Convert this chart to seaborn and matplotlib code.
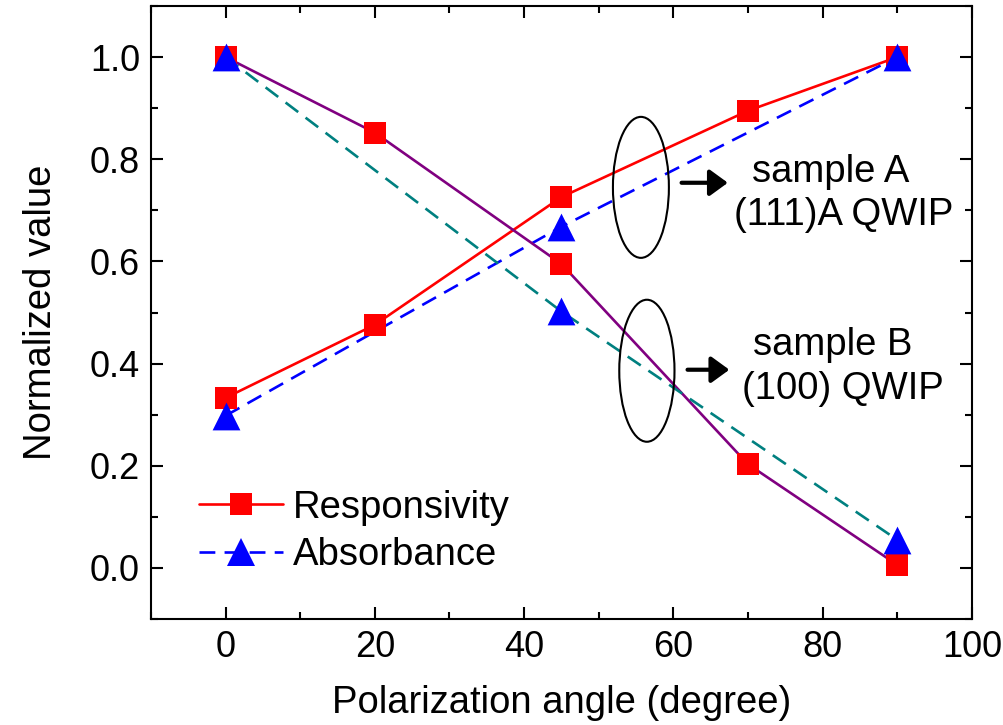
import numpy as np
import pandas as pd
import seaborn as sns
import matplotlib
matplotlib.use("Agg")
import matplotlib.pyplot as plt
from matplotlib.lines import Line2D
from matplotlib.patches import Ellipse
from matplotlib.ticker import MultipleLocator

# ---- data ----
angles_a_resp = [0, 20, 45, 70, 90]
resp_a = [0.333, 0.476, 0.726, 0.895, 1.0]
angles_a_abs = [0, 45, 90]
abs_a = [0.298, 0.668, 1.0]

angles_b_resp = [0, 20, 45, 70, 90]
resp_b = [1.0, 0.852, 0.595, 0.203, 0.006]
angles_b_abs = [0, 45, 90]
abs_b = [1.0, 0.502, 0.055]

x_ticks = [0, 20, 40, 60, 80, 100]
y_ticks = [0.0, 0.2, 0.4, 0.6, 0.8, 1.0]

sns.set_style("ticks")
plt.rcParams['font.family'] = ['Liberation Sans', 'DejaVu Sans']
plt.rcParams.update({"text.color": "black", "axes.labelcolor": "black",
                     "xtick.color": "black", "ytick.color": "black",
                     "axes.edgecolor": "black"})

fig = plt.figure(figsize=(10.04, 7.25), dpi=100)
ax = fig.add_axes([0.1504, 0.1462, 0.8176, 0.8455])

df_ar = pd.DataFrame({"x": angles_a_resp, "y": resp_a})
df_aa = pd.DataFrame({"x": angles_a_abs, "y": abs_a})
df_br = pd.DataFrame({"x": angles_b_resp, "y": resp_b})
df_ba = pd.DataFrame({"x": angles_b_abs, "y": abs_b})

lw = 1.9
dash = (6, 3.5)
sns.lineplot(data=df_ar, x="x", y="y", ax=ax, color="#ff0000", lw=lw, zorder=2)
sns.lineplot(data=df_aa, x="x", y="y", ax=ax, color="#0000ff", lw=lw, zorder=2)
ax.lines[-1].set_dashes(dash)
sns.lineplot(data=df_br, x="x", y="y", ax=ax, color="#800080", lw=lw, zorder=2)
sns.lineplot(data=df_ba, x="x", y="y", ax=ax, color="#008080", lw=lw, zorder=2)
ax.lines[-1].set_dashes(dash)

sq = 16.5 ** 2
tri = 20 ** 2
for d in (df_ar, df_br):
    sns.scatterplot(data=d, x="x", y="y", ax=ax, marker="s", color="#ff0000", s=sq,
                    linewidth=0, zorder=3)
for d in (df_aa, df_ba):
    sns.scatterplot(data=d, x="x", y="y", ax=ax, marker="^", color="#0000ff", s=tri,
                    linewidth=0, zorder=4)

ax.set_xlim(-10, 100)
ax.set_ylim(-0.1, 1.1)
ax.set_xticks(x_ticks)
ax.set_yticks(y_ticks)
ax.set_xticklabels([str(v) for v in x_ticks])
ax.set_yticklabels([f"{v:.1f}" for v in y_ticks])
ax.xaxis.set_minor_locator(MultipleLocator(10))
ax.yaxis.set_minor_locator(MultipleLocator(0.1))
ax.tick_params(which="both", direction="in", top=True, right=True, width=1.5, colors="black")
ax.tick_params(which="major", length=8.5, labelsize=26, pad=8)
ax.tick_params(which="minor", length=5)
for s in ax.spines.values():
    s.set_linewidth(1.5)
    s.set_color("black")

ax.set_xlabel("Polarization angle (degree)", fontsize=27.5, labelpad=14)
ax.set_ylabel("Normalized value", fontsize=27.5, labelpad=22)

handles = [
    Line2D([], [], color="#ff0000", lw=lw, marker="s", markersize=16.5, markeredgewidth=0),
    Line2D([], [], color="#0000ff", lw=lw, ls=(0, dash), marker="^", markersize=20, markeredgewidth=0),
]
ax.legend(handles, ["Responsivity", "Absorbance"], loc="lower left", frameon=False,
          fontsize=27.5, handlelength=2.2, handletextpad=0.25, labelspacing=0.3,
          bbox_to_anchor=(0.04, 0.05), borderaxespad=0)

# annotations
for (cx, cy, w, h) in [(55.65, 0.745, 7.5, 0.276), (56.45, 0.386, 7.4, 0.278)]:
    ax.add_patch(Ellipse((cx, cy), w, h, fill=False, ec="black", lw=1.5, zorder=5))
for (x0, x1, yy) in [(61.1, 67.3, 0.754), (61.9, 67.5, 0.388)]:
    ax.annotate("", xy=(x1, yy), xytext=(x0, yy),
                arrowprops=dict(arrowstyle="-|>,head_length=0.55,head_width=0.4",
                                mutation_scale=20, color="black", lw=3,
                                shrinkA=0, shrinkB=0))
ax.text(81.1, 0.775, "sample A", fontsize=27.5, ha="center", va="center")
ax.text(82.85, 0.691, "(111)A QWIP", fontsize=27.5, ha="center", va="center")
ax.text(81.4, 0.437, "sample B", fontsize=27.5, ha="center", va="center")
ax.text(82.7, 0.350, "(100) QWIP", fontsize=27.5, ha="center", va="center")

fig.savefig("out.png", dpi=100)
